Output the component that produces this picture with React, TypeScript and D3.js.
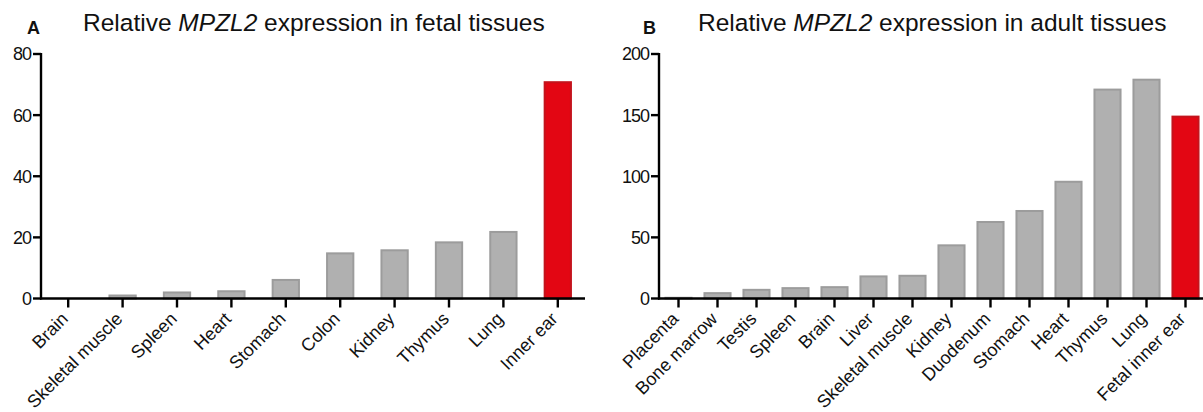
import React from "react";
import * as d3 from "d3";

const fetalTissues = ["Brain", "Skeletal muscle", "Spleen", "Heart", "Stomach", "Colon", "Kidney", "Thymus", "Lung", "Inner ear"];
const fetalValues = [0, 1.3, 2.3, 2.7, 6.4, 15.1, 16.1, 18.7, 22.1, 71.1];
const fetalTicks = [0, 20, 40, 60, 80];

const adultTissues = ["Placenta", "Bone marrow", "Testis", "Spleen", "Brain", "Liver", "Skeletal muscle", "Kidney", "Duodenum", "Stomach", "Heart", "Thymus", "Lung", "Fetal inner ear"];
const adultValues = [1.4, 5.2, 7.9, 9.3, 10.1, 18.9, 19.4, 44.3, 63.4, 72.4, 96.3, 171.7, 179.8, 149.6];
const adultTicks = [0, 50, 100, 150, 200];

const FONT = "'Liberation Sans', Arial, Helvetica, sans-serif";

type PanelProps = {
  letter: string;
  letterX: number;
  titleX: number;
  titleSuffix: string;
  cats: string[];
  vals: number[];
  ticks: number[];
  x0: number;
  x1: number;
  paddingInner: number;
  highlight: string;
};

function Panel(p: PanelProps) {
  const yTop = 54;
  const yBot = 298.5;
  const yMax = p.ticks[p.ticks.length - 1];
  const y = d3.scaleLinear().domain([0, yMax]).range([yBot, yTop]);
  const x = d3.scaleBand<string>().domain(p.cats).range([p.x0, p.x1]).paddingInner(p.paddingInner).paddingOuter(p.paddingInner / 2);
  const bw = x.bandwidth();
  return (
    <g>
      <text x={p.letterX} y={34} fontFamily={FONT} fontWeight="bold" fontSize={18} fill="#111">{p.letter}</text>
      <text x={p.titleX} y={31} fontFamily={FONT} fontSize={24.5} fill="#111">
        Relative <tspan fontStyle="italic">MPZL2</tspan> expression in {p.titleSuffix}
      </text>
      {p.cats.map((c, i) => {
        const v = p.vals[i];
        const isHi = c === p.highlight;
        const top = y(v);
        const h = yBot - top;
        if (h < 0.5) return null;
        return (
          <rect key={c} x={(x(c) as number) + 1} y={top + 1} width={bw - 2} height={Math.max(h - 1, 0)}
            fill={isHi ? "#e30613" : "#b0b0b0"} stroke={isHi ? "#c4131c" : "#9c9c9c"} strokeWidth={2} />
        );
      })}
      {/* y axis */}
      <line x1={p.x0} x2={p.x0} y1={yTop - 1} y2={yBot + 1} stroke="#000" strokeWidth={2.4} />
      {p.ticks.map((t) => (
        <g key={t}>
          <line x1={p.x0 - 8} x2={p.x0} y1={y(t)} y2={y(t)} stroke="#000" strokeWidth={2.4} />
          <text x={p.x0 - 10} y={y(t)} dy="0.36em" textAnchor="end" fontFamily={FONT} fontSize={18} fill="#111" letterSpacing={-1}>{t}</text>
        </g>
      ))}
      {/* x axis */}
      <line x1={p.x0 - 1} x2={p.x1} y1={yBot} y2={yBot} stroke="#000" strokeWidth={2.4} />
      {p.cats.map((c) => {
        const cx = (x(c) as number) + bw / 2;
        return (
          <g key={c}>
            <line x1={cx} x2={cx} y1={yBot} y2={yBot + 9} stroke="#000" strokeWidth={2.4} />
            <text transform={`translate(${cx + 1},${yBot + 21.5}) rotate(-45)`} textAnchor="end" fontFamily={FONT} fontSize={18} fill="#111">{c}</text>
          </g>
        );
      })}
    </g>
  );
}

export default function App() {
  return (
    <svg width={1203} height={412} style={{ position: "absolute", left: 0, top: 0, background: "#fff" }}>
      <rect width={1203} height={412} fill="#fff" />
      <Panel letter="A" letterX={27} titleX={83} titleSuffix="fetal tissues" cats={fetalTissues} vals={fetalValues} ticks={fetalTicks}
        x0={41} x1={585} paddingInner={0.48} highlight="Inner ear" />
      <Panel letter="B" letterX={643} titleX={698} titleSuffix="adult tissues" cats={adultTissues} vals={adultValues} ticks={adultTicks}
        x0={659} x1={1205} paddingInner={0.28} highlight="Fetal inner ear" />
    </svg>
  );
}
